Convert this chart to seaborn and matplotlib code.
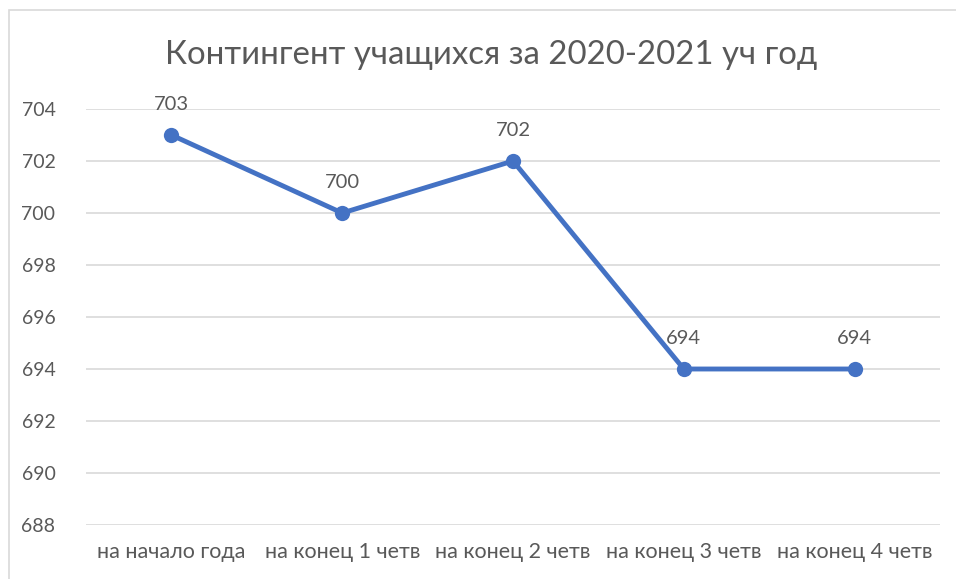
import matplotlib.pyplot as plt
import seaborn as sns
import pandas as pd
from matplotlib.patches import Rectangle

categories = ["на начало года", "на конец 1 четв", "на конец 2 четв",
              "на конец 3 четв", "на конец 4 четв"]
students = [703, 700, 702, 694, 694]
title = "Контингент учащихся за 2020-2021 уч год"

df = pd.DataFrame({"period": categories, "students": students})

sns.set_style("white")
plt.rcParams['font.family'] = ['Lato', 'DejaVu Sans']
text_color = "#595959"
line_color = "#4472C4"

fig = plt.figure(figsize=(9.56, 5.79), dpi=100)
ax = fig.add_axes([86/956, 1 - 525/579, (940 - 86)/956, (525 - 109)/579])

sns.lineplot(data=df, x="period", y="students", ax=ax, sort=False,
             color=line_color, linewidth=3.5, marker="o", markersize=11,
             markeredgewidth=0, zorder=3)

ax.set_xlim(-0.5, len(categories) - 0.5)
ax.set_ylim(688, 704)
ax.set_yticks(range(688, 705, 2))
ax.yaxis.grid(True, color="#D9D9D9", linewidth=1.2)
ax.xaxis.grid(False)
for s in ax.spines.values():
    s.set_visible(False)
ax.set_xlabel("")
ax.set_ylabel("")
ax.tick_params(axis="both", length=0, colors=text_color)
ax.tick_params(axis="y", pad=22, labelsize=14)
ax.tick_params(axis="x", pad=12, labelsize=15.5)

for i, v in enumerate(students):
    ax.annotate(str(v), (i, v), xytext=(0, 16), textcoords="offset points",
                ha="center", va="bottom", fontsize=14.5, color=text_color)

fig.text(491/956, 1 - 55/579, title, ha="center", va="center",
         fontsize=23.8, color=text_color)

# chart frame (cut off at right and bottom)
fig.patches.append(Rectangle((9/956, -0.1), 1.2, 1 - 10/579 + 0.1,
                             transform=fig.transFigure, fill=False,
                             edgecolor="#D9D9D9", linewidth=1.2))

fig.savefig("out.png", dpi=100)
